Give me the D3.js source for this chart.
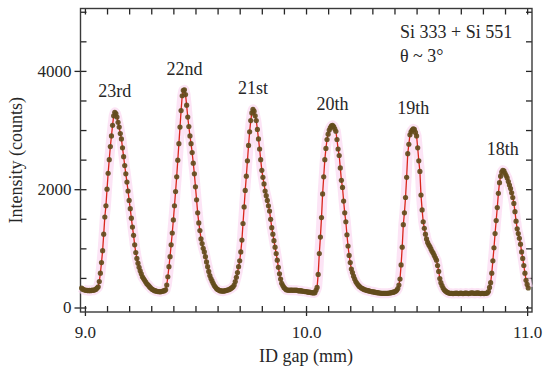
<!DOCTYPE html>
<html lang="en">
<head>
<meta charset="UTF-8">
<script src="https://cdnjs.cloudflare.com/ajax/libs/d3/7.8.5/d3.min.js"></script>
<title>Harmonic peaks vs ID gap</title>
<style>
  body { margin: 0; background: #fff; }
  svg { display: block; font-family: "Liberation Serif", "DejaVu Serif", serif; }
</style>
</head>
<body>
<svg width="550" height="374"></svg>
<script>
// [ID gap (mm), intensity (counts)] for each harmonic scan
const scan23 = [[8.985,330],[8.990,310],[8.995,300],[9.000,295],[9.005,290],[9.010,290],[9.015,285],[9.020,290],[9.025,285],[9.030,290],[9.035,295],[9.040,290],[9.045,300],[9.050,310],[9.055,330],[9.060,350],[9.065,440],[9.070,580],[9.075,760],[9.080,960],[9.085,1240],[9.090,1530],[9.095,1720],[9.100,2000],[9.105,2270],[9.110,2500],[9.115,2720],[9.120,2900],[9.125,3080],[9.130,3240],[9.135,3300],[9.140,3280],[9.145,3220],[9.150,3130],[9.155,3050],[9.160,2940],[9.165,2850],[9.170,2700],[9.175,2550],[9.180,2400],[9.185,2260],[9.190,2120],[9.195,1970],[9.200,1810],[9.205,1670],[9.210,1510],[9.215,1360],[9.220,1220],[9.225,1060],[9.230,930],[9.235,830],[9.240,750],[9.245,680],[9.250,620],[9.255,570],[9.260,520],[9.265,490],[9.270,460],[9.275,430],[9.280,400],[9.285,385],[9.290,360],[9.295,340],[9.300,320],[9.305,305],[9.310,295],[9.315,285],[9.320,280],[9.325,275],[9.330,270],[9.335,270],[9.340,265]]
const scan22 = [[9.345,270],[9.350,275],[9.355,280],[9.360,285],[9.365,300],[9.370,380],[9.375,520],[9.380,690],[9.385,860],[9.390,1060],[9.395,1260],[9.400,1480],[9.405,1720],[9.410,1960],[9.415,2210],[9.420,2490],[9.425,2770],[9.430,3050],[9.435,3330],[9.440,3580],[9.445,3670],[9.450,3680],[9.455,3600],[9.460,3420],[9.465,3220],[9.470,3060],[9.475,2900],[9.480,2770],[9.485,2620],[9.490,2440],[9.495,2260],[9.500,2040],[9.505,1820],[9.510,1600],[9.515,1430],[9.520,1300],[9.525,1160],[9.530,1080],[9.535,1000],[9.540,940],[9.545,860],[9.550,770],[9.555,690],[9.560,610],[9.565,540],[9.570,490],[9.575,450],[9.580,410],[9.585,370],[9.590,345],[9.595,320],[9.600,305],[9.605,295],[9.610,285],[9.615,280],[9.620,280],[9.625,275],[9.630,280],[9.635,285],[9.640,290],[9.645,295],[9.650,300],[9.655,310],[9.660,320],[9.665,335],[9.670,350],[9.675,380]]
const scan21 = [[9.680,440],[9.685,510],[9.690,590],[9.695,690],[9.700,790],[9.705,940],[9.710,1140],[9.715,1420],[9.720,1700],[9.725,1980],[9.730,2220],[9.735,2480],[9.740,2740],[9.745,2970],[9.750,3160],[9.755,3290],[9.760,3350],[9.765,3320],[9.770,3240],[9.775,3160],[9.780,3010],[9.785,2850],[9.790,2680],[9.795,2500],[9.800,2320],[9.805,2200],[9.810,2090],[9.815,1970],[9.820,1890],[9.825,1810],[9.830,1720],[9.835,1630],[9.840,1490],[9.845,1350],[9.850,1240],[9.855,1130],[9.860,1020],[9.865,910],[9.870,800],[9.875,680],[9.880,570],[9.885,480],[9.890,410],[9.895,370],[9.900,340],[9.905,320],[9.910,300],[9.915,295],[9.920,295],[9.925,290],[9.930,295],[9.935,295],[9.940,290],[9.945,295],[9.950,290],[9.955,295],[9.960,290],[9.965,285],[9.970,280],[9.975,285],[9.980,280],[9.985,275],[9.990,275],[9.995,270],[10.000,270],[10.005,265],[10.010,260],[10.015,260],[10.020,255],[10.025,250],[10.030,250],[10.035,245],[10.040,250],[10.045,290]]
const scan20 = [[10.050,340],[10.055,560],[10.060,910],[10.065,1190],[10.070,1520],[10.075,1920],[10.080,2210],[10.085,2500],[10.090,2690],[10.095,2840],[10.100,2930],[10.105,3000],[10.110,3040],[10.115,3070],[10.120,3080],[10.125,3060],[10.130,3020],[10.135,2980],[10.140,2840],[10.145,2680],[10.150,2570],[10.155,2360],[10.160,2150],[10.165,2030],[10.170,1800],[10.175,1600],[10.180,1450],[10.185,1230],[10.190,1040],[10.195,880],[10.200,760],[10.205,650],[10.210,590],[10.215,530],[10.220,480],[10.225,440],[10.230,410],[10.235,385],[10.240,360],[10.245,345],[10.250,330],[10.255,320],[10.260,310],[10.265,300],[10.270,295],[10.275,290],[10.280,285],[10.285,280],[10.290,275],[10.295,270],[10.300,265],[10.305,265],[10.310,260],[10.315,255],[10.320,250],[10.325,250],[10.330,245],[10.335,245],[10.340,240],[10.345,240],[10.350,240],[10.355,240],[10.360,240],[10.365,240],[10.370,240],[10.375,245],[10.380,245],[10.385,250],[10.390,255],[10.395,260],[10.400,265],[10.405,275],[10.410,290],[10.415,320],[10.420,380]]
const scan19 = [[10.425,480],[10.430,720],[10.435,1020],[10.440,1400],[10.445,1600],[10.450,1860],[10.455,2200],[10.460,2600],[10.465,2760],[10.470,2920],[10.475,2970],[10.480,3000],[10.485,3020],[10.490,3010],[10.495,2960],[10.500,2900],[10.505,2700],[10.510,2480],[10.515,2300],[10.520,1900],[10.525,1650],[10.530,1450],[10.535,1340],[10.540,1240],[10.545,1160],[10.550,1100],[10.555,1060],[10.560,1030],[10.565,990],[10.570,950],[10.575,920],[10.580,880],[10.585,840],[10.590,800],[10.595,710],[10.600,610],[10.605,490],[10.610,420],[10.615,370],[10.620,330],[10.625,300],[10.630,280],[10.635,265],[10.640,255],[10.645,245],[10.650,240],[10.655,240],[10.660,238],[10.665,236],[10.670,238],[10.675,240],[10.680,242],[10.685,238],[10.690,236],[10.695,240],[10.700,244],[10.705,240],[10.710,236],[10.715,238],[10.720,242],[10.725,245],[10.730,240],[10.735,236],[10.740,240],[10.745,244],[10.750,248],[10.755,244],[10.760,240],[10.765,238],[10.770,242],[10.775,246],[10.780,242],[10.785,238],[10.790,236],[10.795,240],[10.800,238],[10.805,236],[10.810,238],[10.815,240],[10.820,245],[10.825,270],[10.830,340]]
const scan18 = [[10.835,420],[10.840,580],[10.845,790],[10.850,1010],[10.855,1250],[10.860,1470],[10.865,1690],[10.870,1930],[10.875,2110],[10.880,2220],[10.885,2290],[10.890,2320],[10.895,2310],[10.900,2270],[10.905,2230],[10.910,2190],[10.915,2130],[10.920,2070],[10.925,2010],[10.930,1940],[10.935,1860],[10.940,1760],[10.945,1620],[10.950,1460],[10.955,1330],[10.960,1250],[10.965,1170],[10.970,1070],[10.975,940],[10.980,830],[10.985,710],[10.990,580],[10.995,460],[11.000,390],[11.005,330]]

const orders = ["23rd", "22nd", "21st", "20th", "19th", "18th"]
const xLabelTicks = [9, 10, 11]
const yLabelTicks = [0, 2000, 4000]
const noteLines = ["Si 333 + Si 551", "θ ~ 3°"]

const scans = [scan23, scan22, scan21, scan20, scan19, scan18]
const allPoints = scans.flat()

const svg = d3.select("svg")
const plotLeft = 80.5, plotRight = 532, plotTop = 8.5, plotBottom = 312

const x = d3.scaleLinear().domain([8.98, 11.022]).range([plotLeft, plotRight])
const y = d3.scaleLinear().domain([-76, 5055]).range([plotBottom, plotTop])

const ink = "#262626"
const tickFont = 17
const textFont = 18

// inward minor ticks on all four sides
const xMinor = d3.range(90, 111).map(d => d / 10)
const yMinor = d3.range(0, 11).map(d => d * 500)

svg.append("g").attr("transform", `translate(0,${plotBottom})`)
    .call(d3.axisBottom(x).tickValues(xMinor).tickSize(-6).tickFormat(""))
svg.append("g").attr("transform", `translate(0,${plotTop})`)
    .call(d3.axisTop(x).tickValues(xMinor).tickSize(-6).tickFormat(""))
svg.append("g").attr("transform", `translate(${plotLeft},0)`)
    .call(d3.axisLeft(y).tickValues(yMinor).tickSize(-6).tickFormat(""))
svg.append("g").attr("transform", `translate(${plotRight},0)`)
    .call(d3.axisRight(y).tickValues(yMinor).tickSize(-6).tickFormat(""))

// labelled ticks cross the frame
const xAxis = svg.append("g").attr("transform", `translate(0,${plotBottom})`)
    .call(d3.axisBottom(x).tickValues(xLabelTicks).tickSize(4).tickFormat(d3.format(".1f")))
xAxis.selectAll("text").attr("y", 26).attr("dy", 0)

svg.append("g").attr("transform", `translate(${plotLeft},0)`)
    .call(d3.axisLeft(y).tickValues(yLabelTicks).tickSize(6).tickPadding(3).tickFormat(d3.format("d")))

svg.selectAll("g").selectAll(".domain").remove()
svg.selectAll("g .tick line").attr("stroke", ink).attr("stroke-width", 1.3)
svg.selectAll("g .tick text")
    .attr("fill", ink)
    .style("font-family", "'Liberation Serif', serif")
    .style("font-size", tickFont + "px")

svg.append("rect")
    .attr("x", plotLeft).attr("y", plotTop)
    .attr("width", plotRight - plotLeft).attr("height", plotBottom - plotTop)
    .attr("fill", "none").attr("stroke", "#3a3a3a").attr("stroke-width", 1.4)

const line = d3.line().x(d => x(d[0])).y(d => y(d[1]))

svg.append("path")
    .datum(allPoints)
    .attr("d", line)
    .attr("fill", "none")
    .attr("stroke", "#fbd6f0")
    .attr("stroke-opacity", 0.65)
    .attr("stroke-width", 10)
    .attr("stroke-linejoin", "round")

svg.append("path")
    .datum(allPoints)
    .attr("d", line)
    .attr("fill", "none")
    .attr("stroke", "#d9261c")
    .attr("stroke-width", 1.3)
    .attr("stroke-linejoin", "round")

svg.append("g")
    .selectAll("circle")
    .data(allPoints)
    .enter()
    .append("circle")
    .attr("cx", d => x(d[0]))
    .attr("cy", d => y(d[1]))
    .attr("r", 2.6)
    .attr("fill", "#634c1c")
    .attr("fill-opacity", 0.92)

// harmonic order above each peak
svg.append("g")
    .selectAll("text")
    .data(scans)
    .enter()
    .append("text")
    .attr("x", d => x(d3.greatest(d, p => p[1])[0]))
    .attr("y", d => y(d3.max(d, p => p[1])) - 15)
    .attr("text-anchor", "middle")
    .attr("fill", ink)
    .style("font-size", textFont + "px")
    .text((d, i) => orders[i])

svg.append("g")
    .selectAll("text")
    .data(noteLines)
    .enter()
    .append("text")
    .attr("x", 400)
    .attr("y", (d, i) => 38 + i * 24)
    .attr("fill", ink)
    .style("font-size", textFont + "px")
    .text(d => d)

svg.append("text")
    .attr("transform", `translate(22,${(plotTop + plotBottom) / 2}) rotate(-90)`)
    .attr("text-anchor", "middle")
    .attr("fill", ink)
    .style("font-size", textFont + "px")
    .text("Intensity (counts)")

svg.append("text")
    .attr("x", x(10))
    .attr("y", 362)
    .attr("text-anchor", "middle")
    .attr("fill", ink)
    .style("font-size", textFont + "px")
    .text("ID gap (mm)")
</script>
</body>
</html>
